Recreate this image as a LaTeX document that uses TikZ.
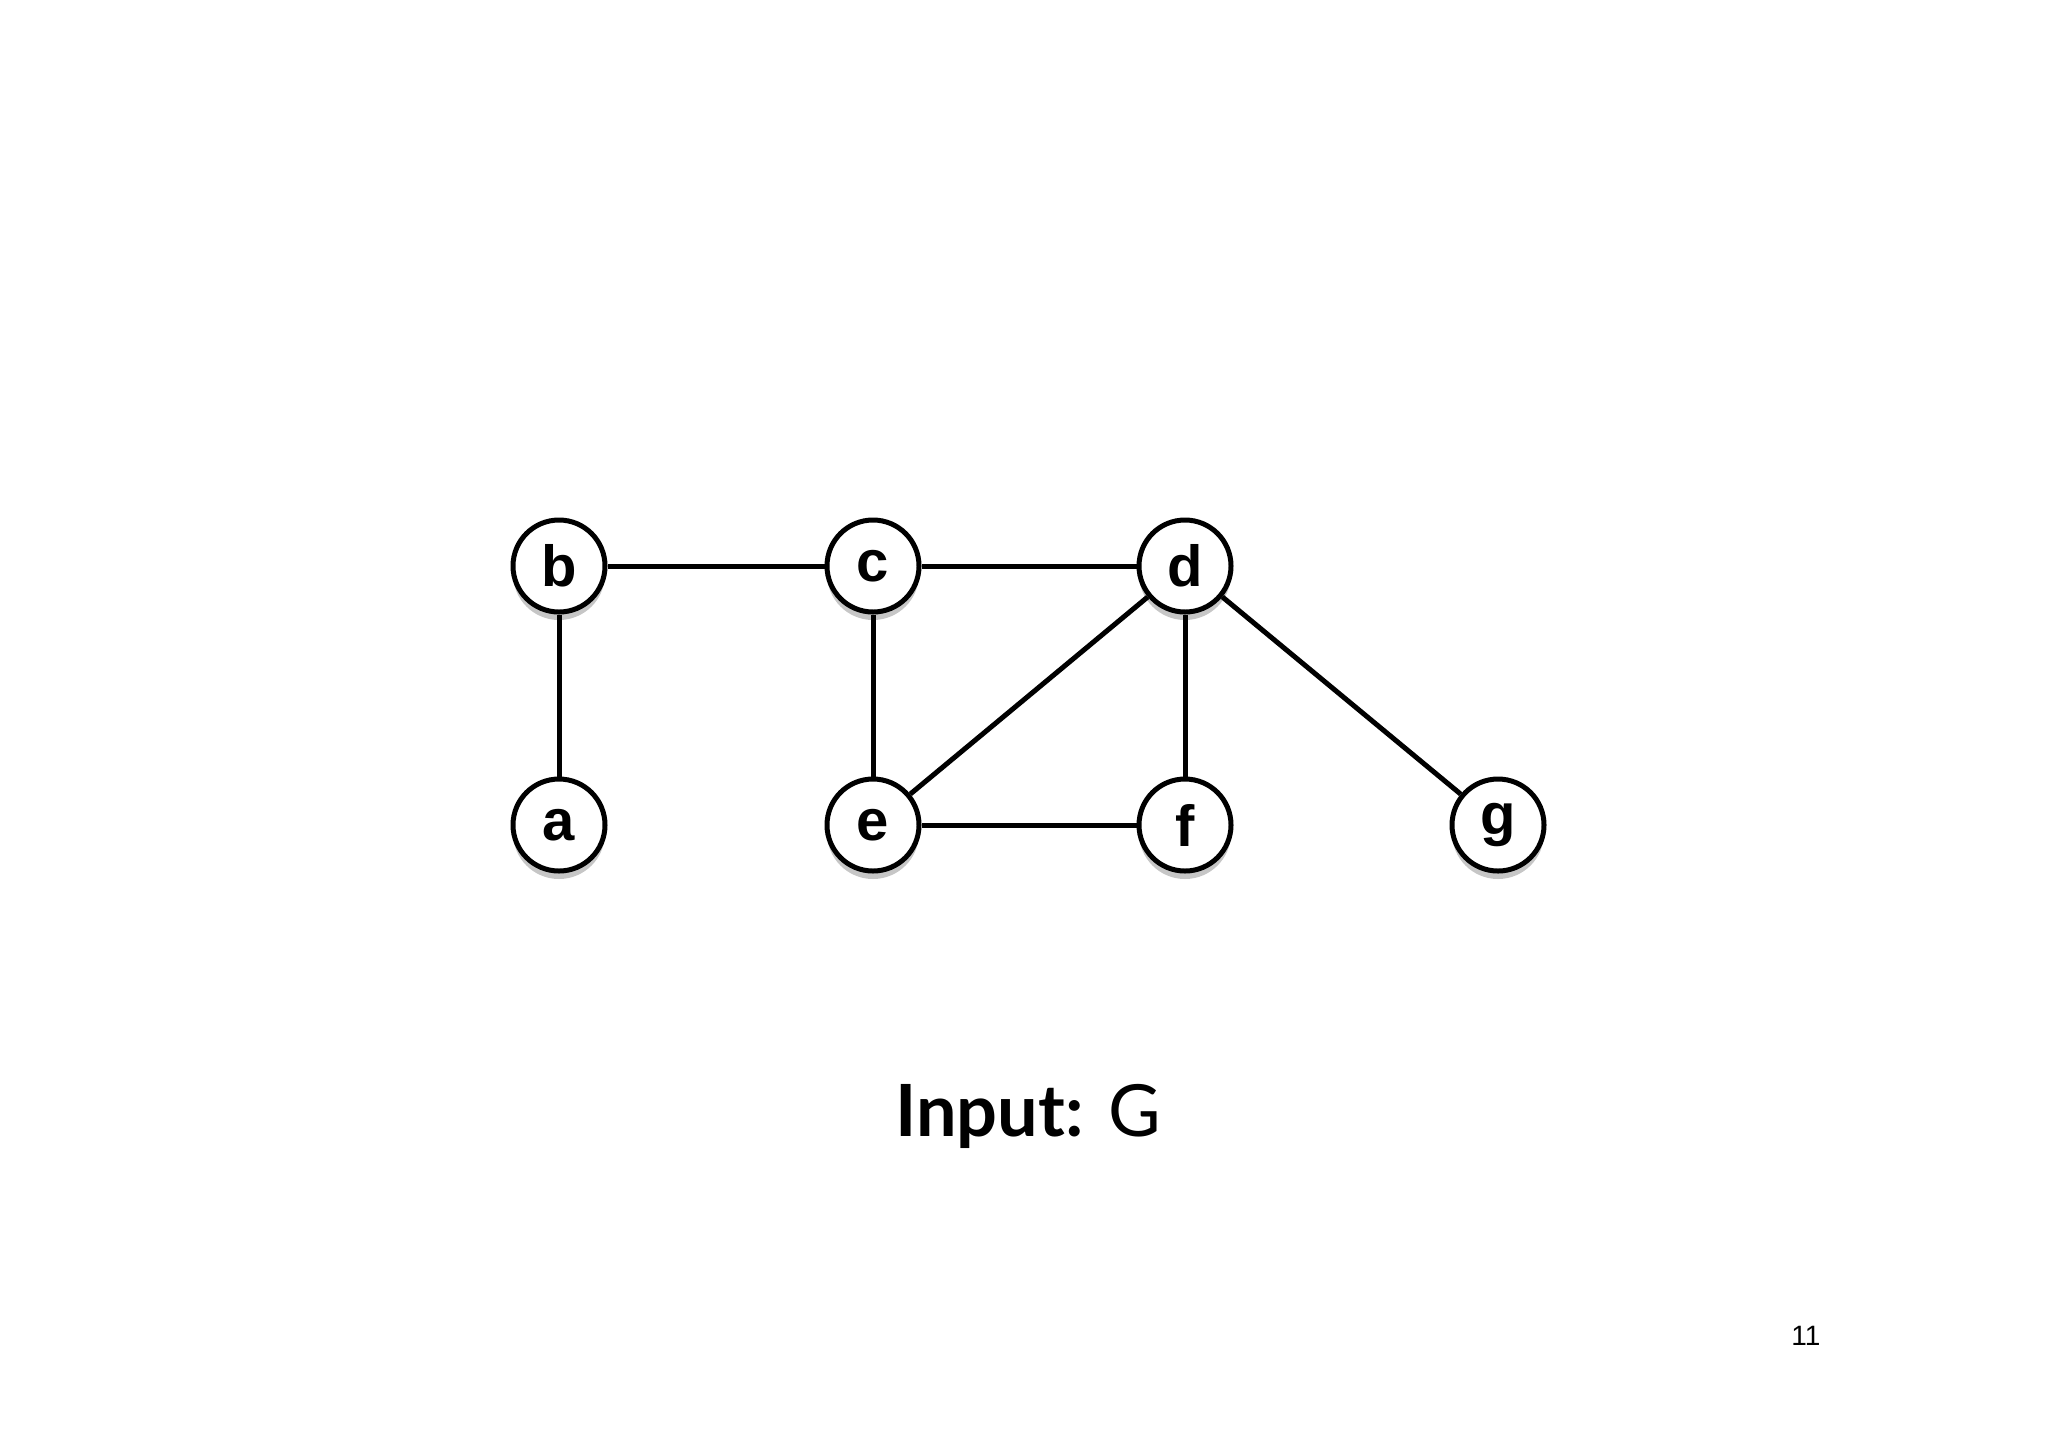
\documentclass[tikz,border=0pt]{standalone}
\usepackage{fontspec}
\setmainfont{Liberation Sans}
\newfontfamily\titlefont{Lato}
\usetikzlibrary{positioning,shadows}

\tikzset{
  vertex/.style={draw, circle, line width=2.5pt, fill=white, minimum size=46pt, inner sep=0pt,
    font=\fontsize{29}{30}\selectfont\bfseries,
    drop shadow={opacity=0.45, shadow xshift=0pt, shadow yshift=-4pt}},
  edge/.style={line width=2.5pt}
}

\begin{document}
\begin{tikzpicture}[x=0.5pt, y=-0.5pt]
            \useasboundingbox (0,0) rectangle (2048,1447);

            \node [vertex] (b) at (559,566) {b};
            \node [vertex] (c) at (873,566) {c};
            \node [vertex] (d) at (1185,566) {d};
            \node [vertex] (a) at (559,825) {a};
            \node [vertex] (e) at (873,825) {e};
            \node [vertex] (f) at (1185,825) {f};
            \node [vertex] (g) at (1498,825) {g};

            \draw [edge] (b) -- (c);
            \draw [edge] (c) -- (d);
            \draw [edge] (b) -- (a);
            \draw [edge] (c) -- (e);
            \draw [edge] (d) -- (e);
            \draw [edge] (d) -- (f);
            \draw [edge] (e) -- (f);
            \draw [edge] (d) -- (g);

            \node (caption) at (1028,1116) {\titlefont\fontsize{36}{40}\selectfont\textbf{Input:} G};
            \node (page) at (1806,1336) {\fontsize{14}{16}\selectfont 11};
\end{tikzpicture}
\end{document}
